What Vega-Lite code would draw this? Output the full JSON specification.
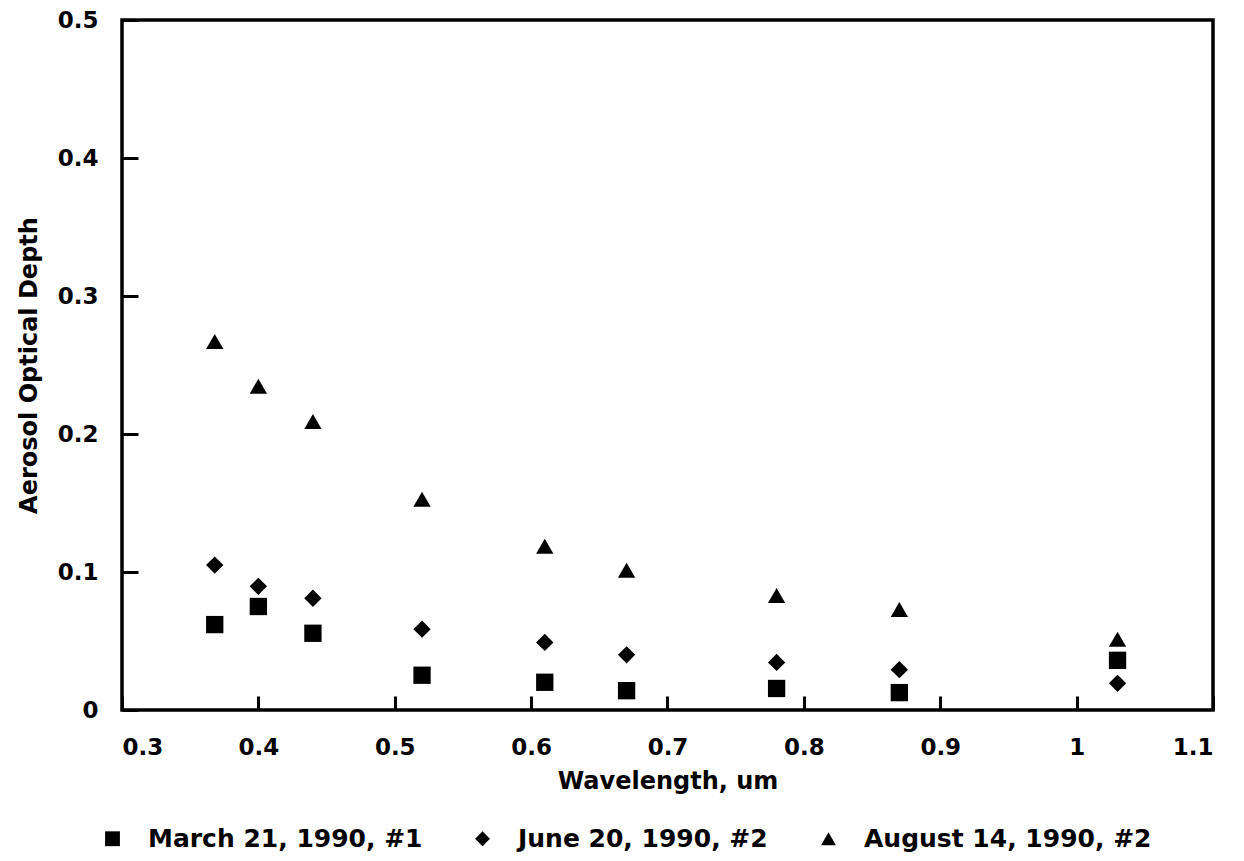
{
  "$schema": "https://vega.github.io/schema/vega-lite/v6.json",
  "autosize": {"type": "none"},
  "padding": {"left": 122, "top": 20, "right": 31, "bottom": 151},
  "width": 1091,
  "height": 690,
  "background": "white",
  "config": {
    "font": "DejaVu Sans",
    "view": {"stroke": "black", "strokeWidth": 3.5},
    "axis": {
      "grid": false,
      "domain": false,
      "ticks": true,
      "tickColor": "black",
      "tickWidth": 3,
      "labelFont": "DejaVu Sans",
      "labelFontWeight": "bold",
      "labelFontSize": 23,
      "labelColor": "black",
      "titleFont": "DejaVu Sans",
      "titleFontWeight": "bold",
      "titleFontSize": 24,
      "titleColor": "black"
    },
    "legend": {
      "labelFont": "DejaVu Sans",
      "labelFontWeight": "bold",
      "labelFontSize": 25,
      "labelColor": "black"
    }
  },
  "data": {
    "values": [
      {"wavelength": 0.368, "depth": 0.0619, "series": "March 21,  1990,  #1"},
      {"wavelength": 0.40, "depth": 0.075, "series": "March 21,  1990,  #1"},
      {"wavelength": 0.44, "depth": 0.0556, "series": "March 21,  1990,  #1"},
      {"wavelength": 0.52, "depth": 0.0252, "series": "March 21,  1990,  #1"},
      {"wavelength": 0.61, "depth": 0.0201, "series": "March 21,  1990,  #1"},
      {"wavelength": 0.67, "depth": 0.014, "series": "March 21,  1990,  #1"},
      {"wavelength": 0.78, "depth": 0.0156, "series": "March 21,  1990,  #1"},
      {"wavelength": 0.87, "depth": 0.0126, "series": "March 21,  1990,  #1"},
      {"wavelength": 1.03, "depth": 0.036, "series": "March 21,  1990,  #1"},
      {"wavelength": 0.368, "depth": 0.105, "series": "June 20,  1990,  #2"},
      {"wavelength": 0.40, "depth": 0.0896, "series": "June 20,  1990,  #2"},
      {"wavelength": 0.44, "depth": 0.081, "series": "June 20,  1990,  #2"},
      {"wavelength": 0.52, "depth": 0.0586, "series": "June 20,  1990,  #2"},
      {"wavelength": 0.61, "depth": 0.049, "series": "June 20,  1990,  #2"},
      {"wavelength": 0.67, "depth": 0.040, "series": "June 20,  1990,  #2"},
      {"wavelength": 0.78, "depth": 0.0345, "series": "June 20,  1990,  #2"},
      {"wavelength": 0.87, "depth": 0.0292, "series": "June 20,  1990,  #2"},
      {"wavelength": 1.03, "depth": 0.0193, "series": "June 20,  1990,  #2"},
      {"wavelength": 0.368, "depth": 0.267, "series": "August 14,  1990,  #2"},
      {"wavelength": 0.40, "depth": 0.2346, "series": "August 14,  1990,  #2"},
      {"wavelength": 0.44, "depth": 0.209, "series": "August 14,  1990,  #2"},
      {"wavelength": 0.52, "depth": 0.1528, "series": "August 14,  1990,  #2"},
      {"wavelength": 0.61, "depth": 0.1186, "series": "August 14,  1990,  #2"},
      {"wavelength": 0.67, "depth": 0.1013, "series": "August 14,  1990,  #2"},
      {"wavelength": 0.78, "depth": 0.083, "series": "August 14,  1990,  #2"},
      {"wavelength": 0.87, "depth": 0.0728, "series": "August 14,  1990,  #2"},
      {"wavelength": 1.03, "depth": 0.0512, "series": "August 14,  1990,  #2"}
    ]
  },
  "mark": {"type": "point", "filled": true, "opacity": 1, "size": 300, "color": "black"},
  "encoding": {
    "x": {
      "field": "wavelength",
      "type": "quantitative",
      "scale": {"domain": [0.3, 1.1], "nice": false, "zero": false},
      "axis": {
        "title": "Wavelength, um",
        "values": [0.3, 0.4, 0.5, 0.6, 0.7, 0.8, 0.9, 1.0, 1.1],
        "format": "~g",
        "tickSize": -14,
        "labelPadding": 40,
        "titlePadding": 10
      }
    },
    "y": {
      "field": "depth",
      "type": "quantitative",
      "scale": {"domain": [0, 0.5], "nice": false},
      "axis": {
        "title": "Aerosol Optical Depth",
        "values": [0, 0.1, 0.2, 0.3, 0.4, 0.5],
        "format": "~g",
        "tickSize": -16,
        "labelPadding": 40,
        "titlePadding": 16
      }
    },
    "shape": {
      "field": "series",
      "type": "nominal",
      "scale": {
        "domain": ["March 21,  1990,  #1", "June 20,  1990,  #2", "August 14,  1990,  #2"],
        "range": ["square", "diamond", "triangle-up"]
      },
      "legend": {
        "title": null,
        "orient": "none",
        "direction": "horizontal",
        "columns": 3,
        "legendX": -22,
        "legendY": 806,
        "padding": 0,
        "symbolSize": 220,
        "symbolFillColor": "black",
        "symbolStrokeColor": "black",
        "labelOffset": 23,
        "columnPadding": 30,
        "labelLimit": 400
      }
    }
  }
}
